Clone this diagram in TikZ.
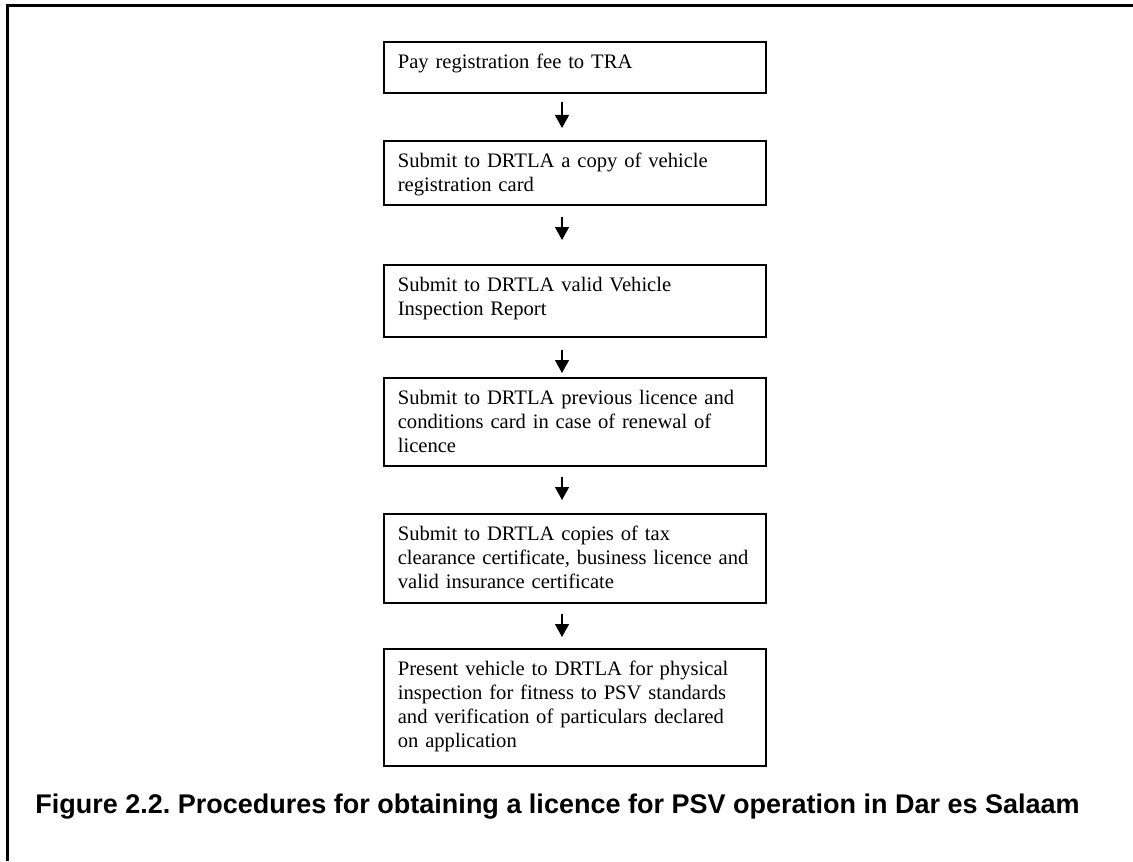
\documentclass[tikz,border=0pt]{standalone}
\usepackage{fontspec}
\setmainfont{Liberation Serif}
\newfontfamily\capfont{Liberation Sans}
\usetikzlibrary{arrows.meta, positioning}
\frenchspacing

\begin{document}
\begin{tikzpicture}[
        x=0.5pt, y=-0.5pt,
        box/.style={rectangle, draw, line width=0.8pt, anchor=north west, text width=177pt, inner xsep=7pt, inner ysep=0pt, align=left, text height=13.5pt, font=\fontsize{10.3pt}{12pt}\selectfont},
        arrow/.style={-{Triangle[length=6.5pt, width=7pt]}, line width=0.7pt},
        frame/.style={line width=1.5pt}
    ]
    \useasboundingbox (0,0) rectangle (1133,861);

    % Outer frame
    \draw[frame] (7,861) -- (7,6) -- (1133,6);

    % Procedure steps
    \node[box, text depth=12pt] (pay) at (383,41) {Pay registration fee to TRA};
    \node[box, text depth=18.5pt] (card) at (383,140) {Submit to DRTLA a copy of vehicle\\ registration card};
    \node[box, text depth=22.5pt] (report) at (383,264) {Submit to DRTLA valid Vehicle\\ Inspection Report};
    \node[box, text depth=30.5pt] (renewal) at (383,377) {Submit to DRTLA previous licence and\\ conditions card in case of renewal of\\ licence};
    \node[box, text depth=31pt] (tax) at (383,513) {Submit to DRTLA copies of tax\\ clearance certificate, business licence and\\ valid insurance certificate};
    \node[box, text depth=45pt] (inspect) at (383,648) {Present vehicle to DRTLA for physical\\ inspection for fitness to PSV standards\\ and verification of particulars declared\\ on application};

    % Arrows between steps
    \coordinate (ax) at (562,0);
    \draw[arrow, shorten <=4pt, shorten >=6pt] (pay.south -| ax) -- (card.north -| ax);
    \draw[arrow, shorten <=5.5pt, shorten >=12pt] (card.south -| ax) -- (report.north -| ax);
    \draw[arrow, shorten <=6pt, shorten >=2pt] (report.south -| ax) -- (renewal.north -| ax);
    \draw[arrow, shorten <=5pt, shorten >=6.5pt] (renewal.south -| ax) -- (tax.north -| ax);
    \draw[arrow, shorten <=5pt, shorten >=5.5pt] (tax.south -| ax) -- (inspect.north -| ax);

    % Caption
    \node[anchor=base west, inner sep=0pt, font=\capfont\bfseries\fontsize{13.5pt}{16pt}\selectfont] (caption) at (35,813) {Figure 2.2. Procedures for obtaining a licence for PSV operation in Dar es Salaam};
\end{tikzpicture}
\end{document}
